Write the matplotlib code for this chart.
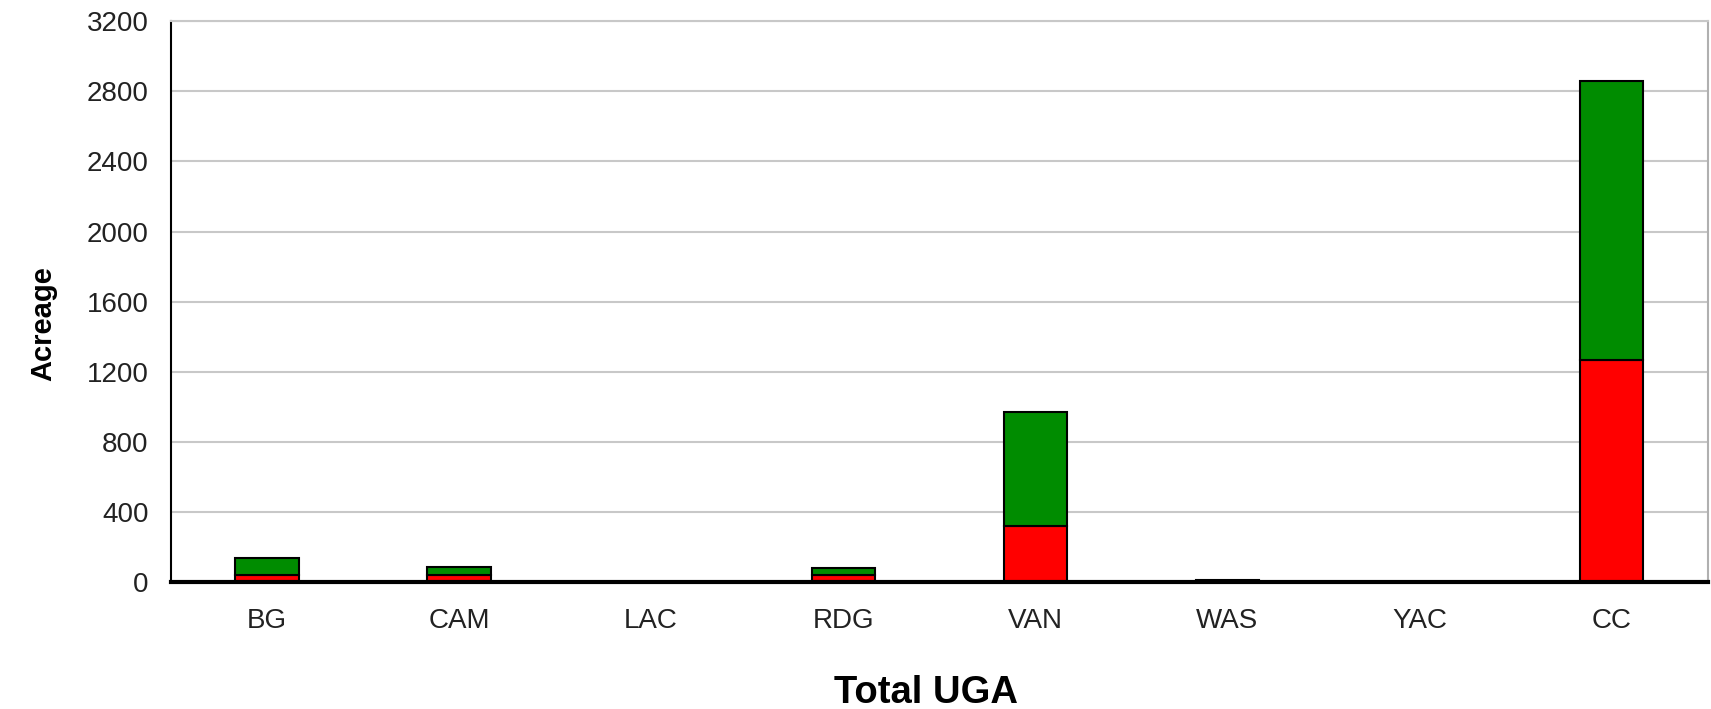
import matplotlib
matplotlib.use("Agg")
import matplotlib.pyplot as plt
import numpy as np

categories = ["BG", "CAM", "LAC", "RDG", "VAN", "WAS", "YAC", "CC"]
red_values = [42, 42, 0, 40, 322, 6, 0, 1270]
green_values = [93, 46, 0, 38, 648, 6, 0, 1590]
y_ticks = [0, 400, 800, 1200, 1600, 2000, 2400, 2800, 3200]

plt.rcParams['font.family'] = ['Liberation Sans', 'DejaVu Sans']

fig = plt.figure(figsize=(17.11, 7.09), dpi=100)
ax = fig.add_axes([0.0999, 0.179, 0.8981, 0.791])

x = np.arange(len(categories))
ax.bar(x, red_values, width=0.33, color="#FF0000", edgecolor="black", linewidth=1.5, zorder=3)
ax.bar(x, green_values, bottom=red_values, width=0.33, color="#008C00", edgecolor="black", linewidth=1.5, zorder=3)

ax.set_xlim(-0.5, len(categories) - 0.5)
ax.set_ylim(0, 3200)
ax.set_yticks(y_ticks)
ax.set_yticklabels([str(v) for v in y_ticks], fontsize=20, color="#222222")
ax.set_xticks(x)
ax.set_xticklabels(categories, fontsize=20, color="#222222")
ax.tick_params(axis='both', length=0)
ax.tick_params(axis='y', pad=16)
ax.tick_params(axis='x', pad=18.5)

ax.yaxis.grid(True, color="#C8C8C8", linewidth=1.5, zorder=0)
ax.set_axisbelow(True)

ax.spines['top'].set_color("#C8C8C8")
ax.spines['top'].set_linewidth(1.5)
ax.spines['right'].set_color("#B0B0B0")
ax.spines['right'].set_linewidth(1.5)
ax.spines['left'].set_color("black")
ax.spines['left'].set_linewidth(1.5)
ax.spines['bottom'].set_color("black")
ax.spines['bottom'].set_linewidth(3)
ax.spines['bottom'].set_zorder(4)

ax.set_xlabel("Total UGA", fontsize=27.5, fontweight="bold")
ax.xaxis.set_label_coords(0.4915, -0.165)
ax.set_ylabel("Acreage", fontsize=21, fontweight="bold")
ax.yaxis.set_label_coords(-0.074, 0.461)

fig.savefig("out.png", dpi=100, facecolor="white")
